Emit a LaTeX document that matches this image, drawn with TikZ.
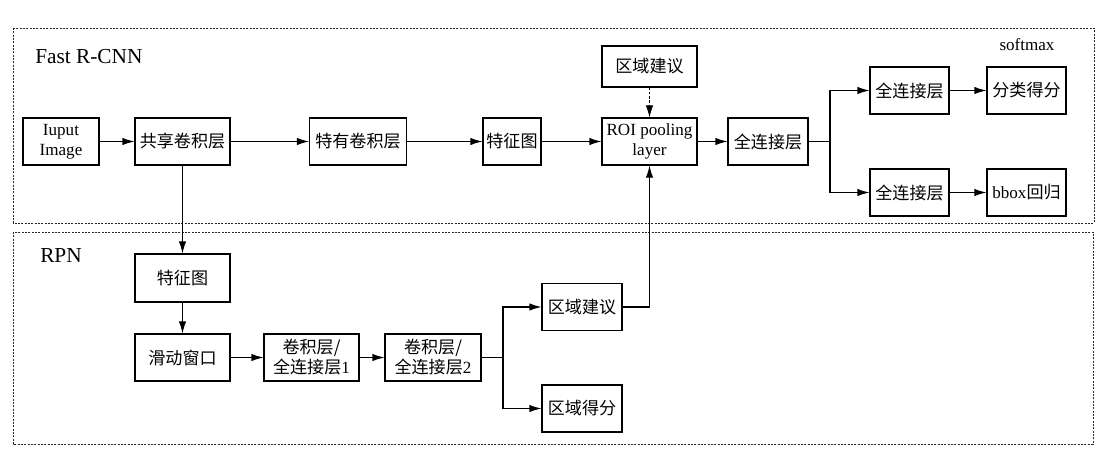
\documentclass[tikz,border=0pt]{standalone}
\usepackage{fontspec}
\setmainfont{Liberation Serif}
\newfontfamily\cjk{Noto Sans CJK SC}
\newcommand{\zh}[1]{{\cjk #1}}
\usetikzlibrary{arrows.meta}
\begin{document}
\begin{tikzpicture}[x=0.75pt,y=-0.75pt,
 box/.style={draw, line width=0.8pt, minimum height=35.25pt, inner sep=0pt, align=center, font=\fontsize{12.8}{15}\selectfont},
 wd/.style={minimum width={#1*0.75pt}},
 ht/.style={minimum height={#1*0.75pt}},
 frame/.style={draw=black!85, line width=0.6pt, dash pattern=on 1.5pt off 1pt},
 arr/.style={-{Latex[length=9pt,width=5.5pt]}, line width=0.8pt},
 darr/.style={-{Latex[length=9pt,width=5.5pt]}, line width=0.6pt, dash pattern=on 2pt off 1.2pt},
 ln/.style={line width=0.8pt},
 title/.style={font=\fontsize{16}{19}\selectfont, anchor=west, inner sep=0pt}]
\fill[white] (0,0) rectangle (1115,453);
\useasboundingbox (0,0) rectangle (1115,453);
% frames
\draw[frame] (13,28) rectangle (1094,223);
\draw[frame] (13,232) rectangle (1093,444);
\node[title] (tfast) at (35,57) {Fast R-CNN};
\node[title] (trpn) at (40,256) {RPN};
\node[font=\fontsize{12.8}{15}\selectfont] (tsoft) at (1027,45) {softmax};
% Fast R-CNN nodes
\node[box, wd=76] (inp) at (61,141.5) {Iuput\\Image};
\node[box, wd=95] (share) at (182.5,141.5) {\zh{共享卷积层}};
\node[box, wd=97] (ty) at (358,141.5) {\zh{特有卷积层}};
\node[box, wd=58] (fm1) at (512,141.5) {\zh{特征图}};
\node[box, wd=95] (roi) at (649.5,141.5) {ROI pooling\\layer};
\node[box, wd=95, ht=41, minimum height=30.75pt] (prop1) at (649.5,66.5) {\zh{区域建议}};
\node[box, wd=80] (fc) at (768,141.5) {\zh{全连接层}};
\node[box, wd=79] (fc1) at (909.5,90.5) {\zh{全连接层}};
\node[box, wd=79] (cls) at (1026.5,90.5) {\zh{分类得分}};
\node[box, wd=79] (fc2) at (909.5,192.5) {\zh{全连接层}};
\node[box, wd=79] (bbox) at (1026.5,192.5) {bbox\zh{回归}};
% RPN nodes
\node[box, wd=95, ht=48, minimum height=36pt] (fm2) at (182.5,278) {\zh{特征图}};
\node[box, wd=95] (slide) at (182.5,357.5) {\zh{滑动窗口}};
\node[box, wd=95] (c1) at (311.5,357.5) {\zh{卷积层/}\\\zh{全连接层}1};
\node[box, wd=96] (c2) at (433,357.5) {\zh{卷积层/}\\\zh{全连接层}2};
\node[box, wd=80] (prop2) at (582,307) {\zh{区域建议}};
\node[box, wd=80] (score) at (582,408.5) {\zh{区域得分}};
% connectors
\draw[arr] (inp) -- (share);
\draw[arr] (share) -- (ty);
\draw[arr] (ty) -- (fm1);
\draw[arr] (fm1) -- (roi);
\draw[darr] (prop1) -- (roi);
\draw[arr] (roi) -- (fc);
\coordinate (b1) at (830,141.5);
\draw[ln] (fc) -- (b1);
\draw[arr] (b1) |- (fc1);
\draw[arr] (b1) |- (fc2);
\draw[arr] (fc1) -- (cls);
\draw[arr] (fc2) -- (bbox);
\draw[arr] (share) -- (fm2);
\draw[arr] (fm2) -- (slide);
\draw[arr] (slide) -- (c1);
\draw[arr] (c1) -- (c2);
\coordinate (b2) at (503,357.5);
\draw[ln] (c2) -- (b2);
\draw[arr] (b2) |- (prop2);
\draw[arr] (b2) |- (score);
\draw[arr] (prop2) -| (roi);
\end{tikzpicture}
\end{document}
